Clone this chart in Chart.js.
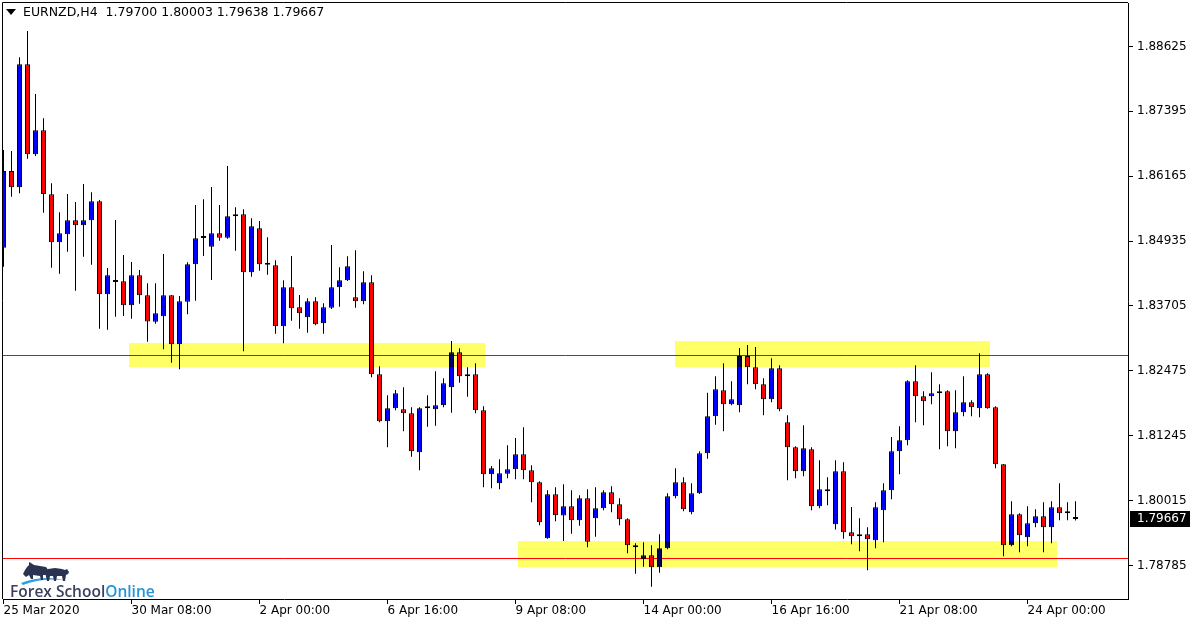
<!DOCTYPE html>
<html>
<head>
<meta charset="utf-8">
<title>EURNZD H4</title>
<script src="https://cdn.jsdelivr.net/npm/chart.js@4.4.1/dist/chart.umd.min.js"></script>
<style>
  html, body { margin: 0; padding: 0; background: #fff; }
  #wrap { width: 1200px; height: 627px; }
</style>
</head>
<body>
<div id="wrap"><canvas id="chart" width="1200" height="627"></canvas></div>
<script>
// header + axes
const symbolName = 'EURNZD,H4'
const headerValues = ['1.79700', '1.80003', '1.79638', '1.79667']
const dateLabels = ['25 Mar 2020', '30 Mar 08:00', '2 Apr 00:00', '6 Apr 16:00', '9 Apr 08:00',
  '14 Apr 00:00', '16 Apr 16:00', '21 Apr 08:00', '24 Apr 00:00']
const dateTickBars = [0, 16, 32, 48, 64, 80, 96, 112, 128]
const priceTicks = [1.78785, 1.80015, 1.81245, 1.82475, 1.83705, 1.84935, 1.86165, 1.87395, 1.88625]

// H4 candles
const opens = [
  1.84810, 1.86264, 1.85955, 1.88287, 1.86581, 1.87036, 1.85823, 1.84913, 1.85064, 1.85330,
  1.85235, 1.85330, 1.85690, 1.83927, 1.84160, 1.84173, 1.83718, 1.84287, 1.83908, 1.83407,
  1.83510, 1.83908, 1.82979, 1.83786, 1.84496, 1.84994, 1.84829, 1.85083, 1.85000, 1.85406,
  1.85444, 1.84344, 1.85178, 1.84488, 1.84476, 1.83320, 1.84059, 1.83680, 1.83491, 1.83794,
  1.83377, 1.83673, 1.84059, 1.84192, 1.83870, 1.83794, 1.84154, 1.82410, 1.81519, 1.81765,
  1.81746, 1.81670, 1.80931, 1.81765, 1.81746, 1.81822, 1.82163, 1.82827, 1.82372, 1.82410,
  1.81727, 1.80514, 1.80343, 1.80525, 1.80609, 1.80893, 1.80590, 1.80362, 1.79300, 1.80135,
  1.79733, 1.79907, 1.79642, 1.80059, 1.79680, 1.79869, 1.80173, 1.79945, 1.79661, 1.79168,
  1.78902, 1.78978, 1.78751, 1.79111, 1.80097, 1.80362, 1.79793, 1.80154, 1.80912, 1.81614,
  1.82106, 1.81841, 1.81822, 1.82757, 1.82543, 1.82220, 1.81936, 1.82524, 1.81500, 1.81026,
  1.80571, 1.80988, 1.79907, 1.80230, 1.79566, 1.80571, 1.79414, 1.79338, 1.79376, 1.79263,
  1.79831, 1.80211, 1.80950, 1.81159, 1.82277, 1.81993, 1.81993, 1.82050, 1.82088, 1.81329,
  1.81689, 1.81879, 1.81765, 1.82410, 1.81784, 1.80704, 1.79168, 1.79756, 1.79319, 1.79585,
  1.79718, 1.79509, 1.79888, 1.79774, 1.79700
]
const highs = [
  1.86663, 1.86644, 1.88420, 1.88919, 1.87724, 1.87264, 1.86031, 1.85481, 1.85828, 1.85677,
  1.86018, 1.85861, 1.85715, 1.84425, 1.85335, 1.84672, 1.84539, 1.84387, 1.84135, 1.84135,
  1.84691, 1.83915, 1.83894, 1.84533, 1.85620, 1.85728, 1.85961, 1.85620, 1.86359, 1.85576,
  1.85538, 1.85368, 1.85316, 1.85007, 1.84571, 1.84192, 1.84653, 1.83913, 1.83851, 1.83870,
  1.83756, 1.84861, 1.84439, 1.84647, 1.84761, 1.84363, 1.84287, 1.82562, 1.82012, 1.82112,
  1.82163, 1.81784, 1.81784, 1.82012, 1.82467, 1.82334, 1.83041, 1.82903, 1.82543, 1.82618,
  1.81803, 1.80671, 1.80798, 1.81064, 1.81202, 1.81405, 1.80685, 1.80381, 1.80211, 1.80267,
  1.80324, 1.80211, 1.80116, 1.80230, 1.80267, 1.80211, 1.80286, 1.80059, 1.79680, 1.79206,
  1.79225, 1.79168, 1.79376, 1.80154, 1.80628, 1.80457, 1.80343, 1.80950, 1.82061, 1.82372,
  1.82618, 1.82277, 1.82909, 1.82965, 1.82928, 1.82334, 1.82713, 1.82580, 1.81632, 1.81045,
  1.81443, 1.81026, 1.80779, 1.80457, 1.80781, 1.80741, 1.79894, 1.79680, 1.79509, 1.79983,
  1.80343, 1.81221, 1.81424, 1.82296, 1.82580, 1.82088, 1.82448, 1.82220, 1.82106, 1.82106,
  1.82372, 1.81917, 1.82808, 1.82429, 1.81803, 1.80710, 1.80002, 1.79774, 1.79907, 1.79850,
  1.79983, 1.80002, 1.80343, 1.79983, 1.80003
]
const lows = [
  1.84450, 1.85777, 1.85842, 1.86498, 1.86549, 1.85474, 1.84431, 1.84317, 1.84734, 1.83995,
  1.84640, 1.84488, 1.83274, 1.83256, 1.83502, 1.83515, 1.83464, 1.83748, 1.83028, 1.83369,
  1.82884, 1.82630, 1.82505, 1.83547, 1.83805, 1.84653, 1.84198, 1.84943, 1.84981, 1.84753,
  1.82846, 1.84260, 1.84374, 1.84298, 1.83180, 1.82998, 1.83426, 1.83274, 1.83199, 1.83340,
  1.83180, 1.83648, 1.83692, 1.84180, 1.83673, 1.83737, 1.82353, 1.81500, 1.81026, 1.81727,
  1.81329, 1.80848, 1.80590, 1.81416, 1.81435, 1.81784, 1.81682, 1.82251, 1.81985, 1.81670,
  1.80267, 1.80248, 1.80230, 1.80438, 1.80419, 1.80419, 1.79983, 1.79547, 1.79290, 1.79623,
  1.79249, 1.79388, 1.79539, 1.79130, 1.79331, 1.79831, 1.79793, 1.79547, 1.79016, 1.78629,
  1.78762, 1.78383, 1.78648, 1.79092, 1.80059, 1.79812, 1.79756, 1.80140, 1.80810, 1.81454,
  1.81329, 1.81822, 1.81689, 1.82220, 1.82125, 1.81632, 1.81879, 1.81708, 1.80400, 1.80438,
  1.80476, 1.79831, 1.79869, 1.79926, 1.79467, 1.79293, 1.79187, 1.79054, 1.78694, 1.79111,
  1.79225, 1.80040, 1.80514, 1.81064, 1.81500, 1.81443, 1.81841, 1.80988, 1.81045, 1.81007,
  1.81614, 1.81614, 1.81595, 1.81758, 1.80628, 1.78959, 1.79149, 1.79035, 1.79149, 1.79509,
  1.79035, 1.79206, 1.79642, 1.79642, 1.79638
]
const closes = [
  1.86264, 1.85955, 1.88287, 1.86581, 1.87036, 1.85828, 1.84913, 1.85083, 1.85330, 1.85235,
  1.85330, 1.85690, 1.83927, 1.84287, 1.84160, 1.83718, 1.84287, 1.83908, 1.83411, 1.83566,
  1.83908, 1.82979, 1.83794, 1.84496, 1.84988, 1.84994, 1.85083, 1.85000, 1.85406, 1.85444,
  1.84344, 1.85216, 1.84496, 1.84488, 1.83320, 1.84059, 1.83661, 1.83566, 1.83794, 1.83358,
  1.83680, 1.84059, 1.84192, 1.84458, 1.83794, 1.84154, 1.82410, 1.81519, 1.81765, 1.82050,
  1.81670, 1.80950, 1.81765, 1.81765, 1.81822, 1.82239, 1.82827, 1.82372, 1.82410, 1.81727,
  1.80514, 1.80628, 1.80533, 1.80609, 1.80893, 1.80590, 1.80362, 1.79604, 1.80135, 1.79737,
  1.79907, 1.79642, 1.80059, 1.79236, 1.79869, 1.80173, 1.79945, 1.79661, 1.79168, 1.79130,
  1.78978, 1.78751, 1.79111, 1.80097, 1.80362, 1.79850, 1.80154, 1.80912, 1.81614, 1.82125,
  1.81841, 1.81936, 1.82757, 1.82543, 1.82220, 1.81936, 1.82524, 1.81746, 1.81026, 1.80571,
  1.81007, 1.79907, 1.80230, 1.80192, 1.80571, 1.79414, 1.79338, 1.79376, 1.79282, 1.79888,
  1.80211, 1.80950, 1.81159, 1.82277, 1.81993, 1.81898, 1.82050, 1.82088, 1.81329, 1.81689,
  1.81879, 1.81784, 1.82410, 1.81765, 1.80704, 1.79168, 1.79756, 1.79357, 1.79585, 1.79718,
  1.79509, 1.79888, 1.79774, 1.79774, 1.79667
]

// drawn objects: horizontal levels and yellow zones (bar index / price)
const levelLines = [1.8277, 1.7892]
const zoneFrom = [15.7, 83.9, 64.3]
const zoneTo = [60.2, 123.3, 131.7]
const zoneTop = [1.83003, 1.83041, 1.79249]
const zoneBottom = [1.82539, 1.82548, 1.78747]
const lastPrice = 1.79667

const BULL = '#0000ff'
const BEAR = '#ff0000'

Chart.defaults.font.family = '"DejaVu Sans", Verdana, sans-serif'
Chart.defaults.font.size = 12
Chart.defaults.color = '#000'

const bodies = opens.map((o, i) => ({ x: i, y: [o, closes[i]] }))
const wicks = lows.map((l, i) => ({ x: i, y: [l, highs[i]] }))
const bodyColors = opens.map((o, i) => closes[i] > o ? BULL : (closes[i] < o ? BEAR : '#000'))

function drawLogo(ctx) {
  ctx.save()
  ctx.translate(0, -2)
  // blue swoosh
  ctx.fillStyle = '#2f9fe3'
  ctx.beginPath()
  ctx.moveTo(21, 585)
  ctx.quadraticCurveTo(42, 577, 64, 582)
  ctx.quadraticCurveTo(42, 580, 23, 587)
  ctx.closePath()
  ctx.fill()

  ctx.fillStyle = '#2c3350'
  // bull
  const bull = [[25, 572], [23, 576], [26, 579], [29, 577], [31, 581], [33, 581], [33, 577], [40, 578],
    [41, 582], [43, 582], [43, 577], [46, 577], [47, 581], [49, 581], [49, 573], [46, 569], [40, 568],
    [34, 567], [31, 565], [29, 564], [29, 567], [27, 569]]
  ctx.beginPath()
  bull.forEach(([x, y], i) => i ? ctx.lineTo(x, y) : ctx.moveTo(x, y))
  ctx.closePath()
  ctx.fill()
  // bear
  const bear = [[45, 575], [48, 571], [55, 570], [62, 571], [65, 572], [67, 571], [69, 574], [68, 576],
    [66, 577], [65, 583], [63, 583], [62, 578], [57, 578], [56, 583], [54, 583], [53, 578], [50, 578],
    [49, 583], [47, 583], [46, 578]]
  ctx.beginPath()
  bear.forEach(([x, y], i) => i ? ctx.lineTo(x, y) : ctx.moveTo(x, y))
  ctx.closePath()
  ctx.fill()
  ctx.restore()

  ctx.save()
  ctx.font = '600 15.5px "Open Sans"'
  ctx.textBaseline = 'alphabetic'
  ctx.fillStyle = '#3a3f5c'
  ctx.fillText('Forex School', 10, 597)
  const w = ctx.measureText('Forex School').width
  ctx.fillStyle = '#2394d6'
  ctx.fillText('Online', 10 + w, 597)
  ctx.restore()
}

const mt4Overlay = {
  id: 'mt4Overlay',
  beforeDraw(chart) {
    const { ctx, width, height } = chart
    ctx.save()
    ctx.fillStyle = '#fff'
    ctx.fillRect(0, 0, width, height)
    ctx.restore()
  },
  beforeDatasetsDraw(chart) {
    const { ctx, chartArea: a, scales: { y } } = chart
    ctx.save()
    ctx.strokeStyle = '#ff0000'
    ctx.lineWidth = 1
    levelLines.forEach(v => {
      const py = Math.round(y.getPixelForValue(v)) + 0.5
      ctx.beginPath()
      ctx.moveTo(a.left, py)
      ctx.lineTo(a.right, py)
      ctx.stroke()
    })
    ctx.restore()
  },
  afterDatasetsDraw(chart) {
    // MT4 blends the rectangles with the candles: multiply keeps red, darkens blue
    const { ctx, chartArea: a, scales: { x, y } } = chart
    ctx.save()
    ctx.beginPath()
    ctx.rect(a.left, a.top, a.right - a.left, a.bottom - a.top)
    ctx.clip()
    ctx.globalCompositeOperation = 'multiply'
    ctx.fillStyle = '#ffff66'
    zoneFrom.forEach((from, i) => {
      const x1 = Math.round(x.getPixelForValue(from))
      const x2 = Math.round(x.getPixelForValue(zoneTo[i]))
      const y1 = Math.round(y.getPixelForValue(zoneTop[i]))
      const y2 = Math.round(y.getPixelForValue(zoneBottom[i]))
      ctx.fillRect(x1, y1, x2 - x1, y2 - y1)
    })
    ctx.restore()
  },
  afterDraw(chart) {
    const { ctx, chartArea: a, scales: { y } } = chart
    ctx.save()
    // left and top frame
    ctx.strokeStyle = '#000'
    ctx.lineWidth = 1
    ctx.beginPath()
    ctx.moveTo(a.left - 0.5, a.bottom)
    ctx.lineTo(a.left - 0.5, a.top - 0.5)
    ctx.lineTo(a.right, a.top - 0.5)
    ctx.stroke()

    // header
    ctx.fillStyle = '#000'
    ctx.beginPath()
    ctx.moveTo(6, 9)
    ctx.lineTo(16, 9)
    ctx.lineTo(11, 15)
    ctx.closePath()
    ctx.fill()
    ctx.font = '12.5px "DejaVu Sans"'
    ctx.textBaseline = 'middle'
    ctx.fillText(symbolName + '  ' + headerValues.join(' '), 23, 13)

    // current price tag
    const py = Math.round(y.getPixelForValue(lastPrice))
    ctx.fillStyle = '#000'
    ctx.fillRect(a.right + 2, py - 8, 60, 16)
    ctx.fillStyle = '#fff'
    ctx.font = '12px "DejaVu Sans"'
    ctx.fillText(lastPrice.toFixed(5), a.right + 9, py)
    ctx.restore()

    drawLogo(ctx)
  }
}

new Chart(document.getElementById('chart'), {
  type: 'bar',
  data: {
    datasets: [
      {
        label: 'body',
        data: bodies,
        backgroundColor: bodyColors,
        borderColor: '#000',
        borderWidth: 1,
        borderSkipped: false,
        barThickness: 5,
        minBarLength: 2,
        inflateAmount: 0,
        grouped: false,
        clip: 0
      },
      {
        label: 'wick',
        data: wicks,
        backgroundColor: '#000',
        borderWidth: 0,
        barThickness: 1,
        inflateAmount: 0,
        grouped: false,
        clip: 0
      }
    ]
  },
  options: {
    responsive: false,
    animation: false,
    devicePixelRatio: 1,
    layout: { padding: { left: 3, top: 3, right: 0, bottom: 0 } },
    plugins: {
      legend: { display: false },
      tooltip: { enabled: false }
    },
    scales: {
      x: {
        type: 'linear',
        min: -0.0625,
        max: 140.5625,
        bounds: 'data',
        offset: false,
        grid: { offset: false, drawOnChartArea: false, drawTicks: true, tickLength: 5, color: '#000' },
        border: { display: true, color: '#000', width: 1 },
        ticks: {
          align: 'start',
          autoSkip: false,
          maxRotation: 0,
          minRotation: 0,
          padding: 0,
          color: '#000',
          callback: (v, i) => dateLabels[i]
        },
        afterBuildTicks: scale => {
          scale.ticks = dateTickBars.map(v => ({ value: v }))
        },
        afterFit: scale => {
          scale.height = 28
          scale.paddingLeft = 0
          scale.paddingRight = 0
        }
      },
      y: {
        position: 'right',
        min: 1.7814954,
        max: 1.894497,
        bounds: 'data',
        grid: { drawOnChartArea: false, drawTicks: true, tickLength: 5, color: '#000' },
        border: { display: true, color: '#000', width: 1 },
        ticks: {
          padding: 4,
          color: '#000',
          callback: v => v.toFixed(5)
        },
        afterBuildTicks: scale => {
          scale.ticks = priceTicks.map(v => ({ value: v }))
        },
        afterFit: scale => {
          scale.width = 72
          scale.paddingTop = 0
          scale.paddingBottom = 0
        }
      }
    }
  },
  plugins: [mt4Overlay]
})
</script>
</body>
</html>
